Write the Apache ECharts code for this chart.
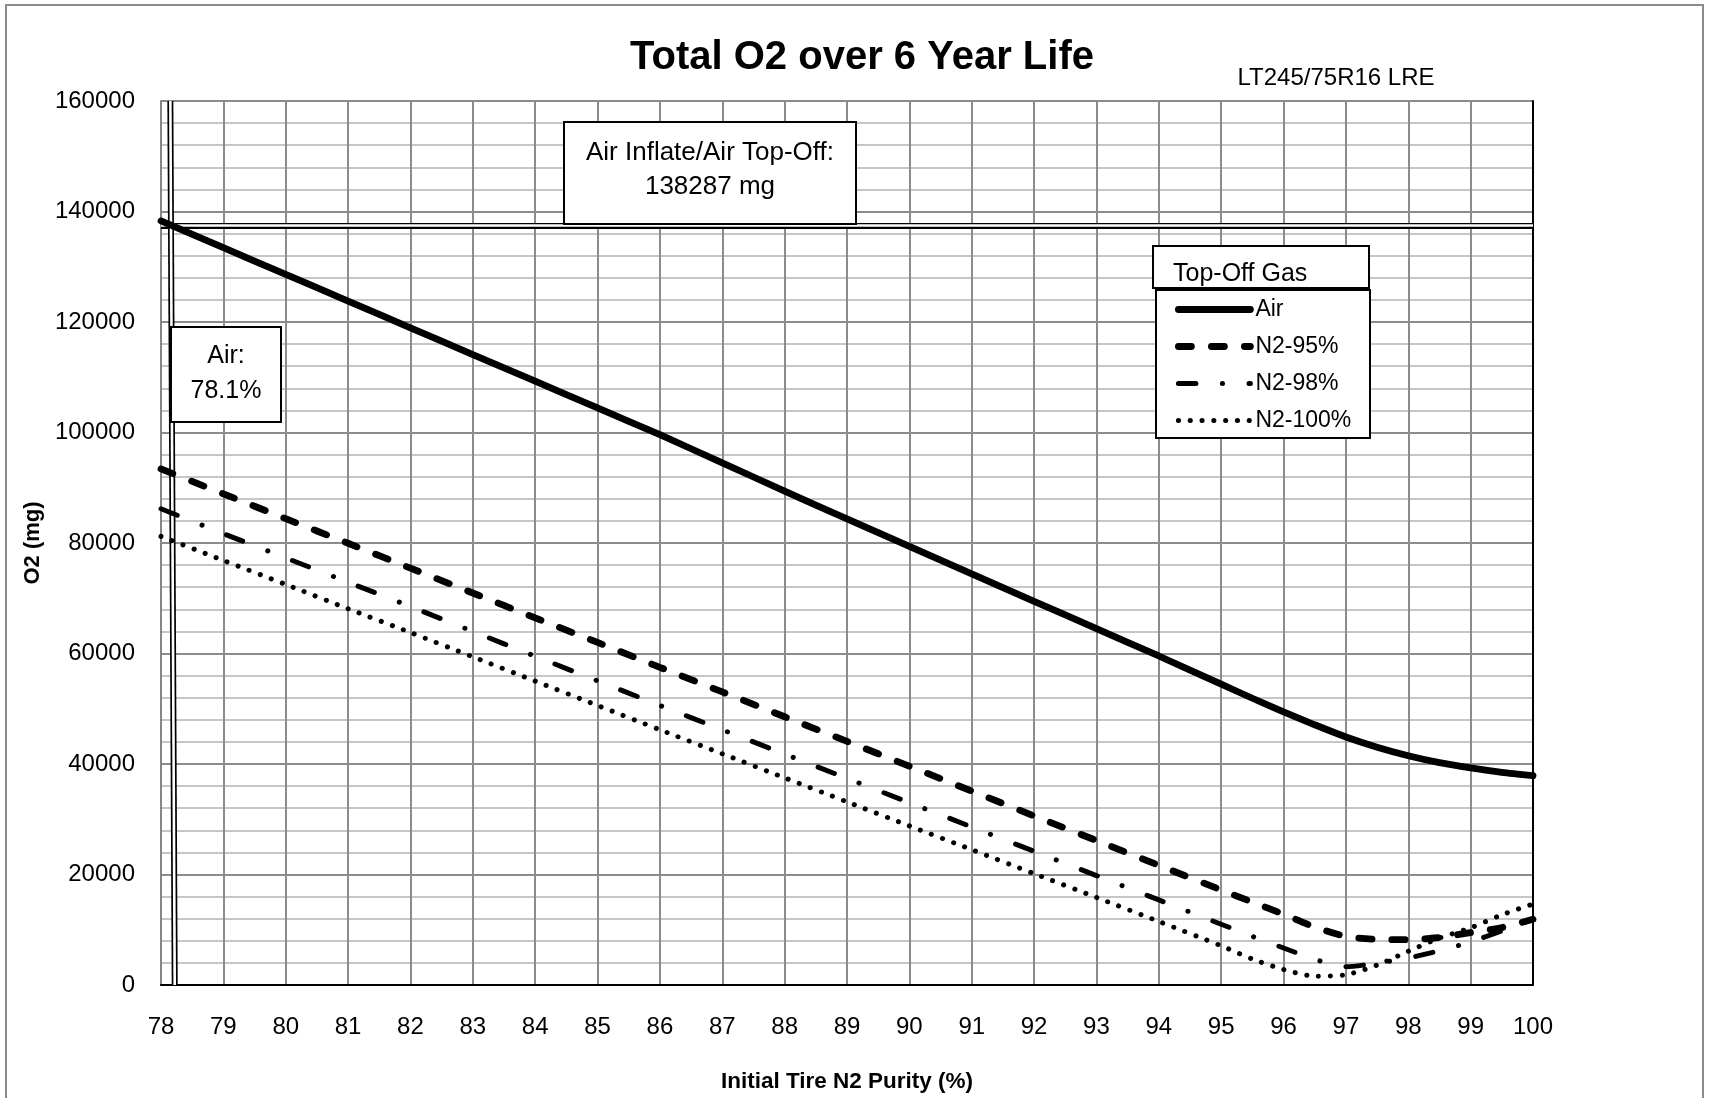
<!DOCTYPE html>
<html>
<head>
<meta charset="utf-8">
<script src="https://cdn.jsdelivr.net/npm/echarts@6/dist/echarts.min.js"></script>
<style>
  html, body { margin: 0; padding: 0; background: #fff; }
  #chart { width: 1711px; height: 1098px; }
</style>
</head>
<body>
<div id="chart"></div>
<script>
// ---- data ----
const purity = [78, 79, 80, 81, 82, 83, 84, 85, 86, 87, 88, 89, 90, 91, 92, 93, 94, 95,
  95.5, 96, 96.5, 97, 97.5, 98, 98.5, 99, 99.5, 100]

const o2Air = [138287, 133450, 128600, 123800, 118950, 114100, 109300, 104450, 99600, 94500,
  89400, 84350, 79400, 74400, 69450, 64500, 59550, 54450,
  51900, 49450, 47100, 44900, 43050, 41500, 40250, 39300, 38500, 37900]

const o2N95 = [93400, 88900, 84400, 79950, 75450, 70950, 66450, 62000, 57500, 53050,
  48550, 44100, 39600, 35100, 30600, 26150, 21650, 17200,
  15000, 12800, 10500, 8800, 8250, 8200, 8600, 9500, 10400, 11900]

const o2N98 = [86200, 81700, 77300, 72900, 68500, 64000, 59500, 55050, 50600, 46200,
  41800, 37400, 33000, 28600, 24200, 19800, 15400, 11000,
  8800, 6700, 4650, 3300, 3950, 4900, 6200, 7800, 9800, 11900]

const o2N100 = [81200, 76850, 72500, 68100, 63800, 59400, 55000, 50600, 46200, 41850,
  37500, 33150, 28800, 24500, 20150, 15850, 11500, 7100,
  4700, 2800, 1600, 1850, 3600, 6100, 8500, 10350, 12700, 14650]

const seriesNames = ['Air', 'N2-95%', 'N2-98%', 'N2-100%']

// annotation lines (as drawn in the picture)
const airInflateLevel = 137500        // horizontal double line
const airPurityLine = [78.15, 78.22]  // vertical double line, top / bottom

const FONT = 'Liberation Sans, Arial, sans-serif'

const pairs = (ys) => purity.map((x, i) => [x, ys[i]])

// line looks
const styles = {
  'Air':     { color: '#000', width: 6.8, type: 'solid', cap: 'round' },
  'N2-95%':  { color: '#000', width: 6.8, type: [13, 20], cap: 'round' },
  'N2-98%':  { color: '#000', width: 5, type: [17.5, 26.5, 0.1, 26.5], cap: 'round' },
  'N2-100%': { color: '#000', width: 5, type: [0.1, 11.7], cap: 'round' }
}

let myChart = echarts.init(document.getElementById('chart'))

function dataSeries(name, ys) {
  return {
    name: name,
    type: 'line',
    data: pairs(ys),
    smooth: 0.25,
    symbol: 'none',
    z: 5,
    color: '#000',
    lineStyle: styles[name]
  }
}

// double line = black wide line + white thin line on top
function refSeries(color, width, z) {
  return {
    type: 'line',
    data: [],
    z: z,
    silent: true,
    markLine: {
      silent: true,
      symbol: 'none',
      label: { show: false },
      lineStyle: { color: color, width: width, type: 'solid' },
      data: [
        [{ coord: [78, airInflateLevel] }, { coord: [100, airInflateLevel] }],
        [{ coord: [airPurityLine[0], 160000] }, { coord: [airPurityLine[1], 0] }]
      ]
    }
  }
}

function centerText(text, x, y, size, weight) {
  return {
    type: 'text', z: 11,
    style: { text: text, x: x, y: y, font: (weight || '') + ' ' + size + 'px ' + FONT,
      fill: '#000', align: 'center', verticalAlign: 'middle',
      textAlign: 'center', textVerticalAlign: 'middle' }
  }
}

function box(x, y, w, h) {
  return {
    type: 'rect', z: 10,
    shape: { x: x, y: y, width: w, height: h },
    style: { fill: '#fff', stroke: '#000', lineWidth: 2 }
  }
}

let option = {
  backgroundColor: '#fff',
  animation: false,
  grid: { left: 161, right: 178, top: 101, bottom: 112 },
  xAxis: [
    {
      type: 'value',
      min: 78,
      max: 100,
      interval: 1,
      name: 'Initial Tire N2 Purity (%)',
      nameLocation: 'middle',
      nameGap: 85,
      nameTextStyle: { fontFamily: FONT, fontSize: 22.5, fontWeight: 'bold', color: '#000' },
      axisLine: { lineStyle: { color: '#868686', width: 2 } },
      axisTick: { show: false },
      axisLabel: { fontFamily: FONT, fontSize: 24, color: '#000', margin: 30 },
      splitLine: { show: true, lineStyle: { color: '#8c8c8c', width: 2 } }
    },
    {
      type: 'value',
      position: 'top',
      min: 78,
      max: 100,
      axisLine: { show: true, lineStyle: { color: '#000', width: 2 } },
      axisTick: { show: false },
      axisLabel: { show: false },
      splitLine: { show: false }
    }
  ],
  yAxis: [
    {
      type: 'value',
      min: 0,
      max: 160000,
      interval: 20000,
      name: 'O2 (mg)',
      nameLocation: 'middle',
      nameGap: 116,
      nameTextStyle: { fontFamily: FONT, fontSize: 22, fontWeight: 'bold', color: '#000' },
      axisLine: { show: true, lineStyle: { color: '#868686', width: 2 } },
      axisTick: { show: false },
      axisLabel: { fontFamily: FONT, fontSize: 24, color: '#000', margin: 26,
        formatter: (v) => String(v) },
      splitLine: { show: true, lineStyle: { color: '#8c8c8c', width: 2 } },
      minorTick: { show: false, splitNumber: 5 },
      minorSplitLine: { show: true, lineStyle: { color: '#c6c6c6', width: 2 } }
    },
    {
      type: 'value',
      position: 'right',
      min: 0,
      max: 160000,
      axisLine: { show: true, lineStyle: { color: '#000', width: 2 } },
      axisTick: { show: false },
      axisLabel: { show: false },
      splitLine: { show: false }
    }
  ],
  legend: {
    orient: 'vertical',
    left: 1175,
    top: 298,
    padding: 0,
    itemWidth: 72,
    itemHeight: 14,
    itemGap: 14,
    z: 20,
    textStyle: { fontFamily: FONT, fontSize: 23, color: '#000' },
    itemStyle: { opacity: 0 },
    data: seriesNames.map(n => ({ name: n, lineStyle: styles[n] }))
  },
  graphic: [
    // outer frame
    {
      type: 'rect', z: 10, silent: true,
      shape: { x: 6, y: 5, width: 1697, height: 1110 },
      style: { fill: 'none', stroke: '#8c8c8c', lineWidth: 2 }
    },
    centerText('Total O2 over 6 Year Life', 862, 58, 40, 'bold'),
    centerText('LT245/75R16 LRE', 1336, 78, 24),
    // Air Inflate box
    box(564, 122, 292, 102),
    centerText('Air Inflate/Air Top-Off:', 710, 153, 26),
    centerText('138287 mg', 710, 187, 26),
    // Air 78.1% box
    box(171, 327, 110, 95),
    centerText('Air:', 226, 356, 25),
    centerText('78.1%', 226, 391, 25),
    // legend title box + legend box
    box(1153, 246, 216, 42),
    {
      type: 'text', z: 11,
      style: { text: 'Top-Off Gas', x: 1173, y: 274, font: '25px ' + FONT,
        fill: '#000', align: 'left', verticalAlign: 'middle', textAlign: 'left', textVerticalAlign: 'middle' }
    },
    box(1156, 290, 214, 148)
  ],
  series: [
    refSeries('#000', 6, 1),
    refSeries('#fff', 2.6, 2),
    dataSeries('Air', o2Air),
    dataSeries('N2-95%', o2N95),
    dataSeries('N2-98%', o2N98),
    dataSeries('N2-100%', o2N100)
  ]
}

myChart.setOption(option)
</script>
</body>
</html>
